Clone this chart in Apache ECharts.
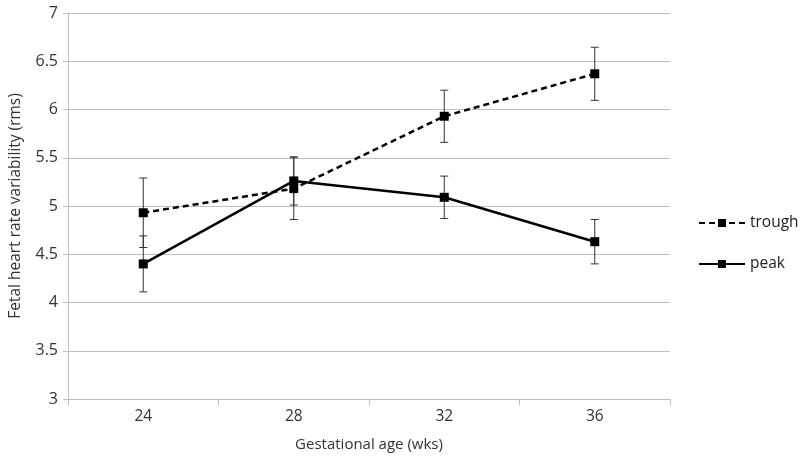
<!DOCTYPE html>
<html>
<head>
<meta charset="utf-8">
<script src="https://cdn.jsdelivr.net/npm/echarts@6/dist/echarts.min.js"></script>
<style>html,body{margin:0;padding:0;background:#fff}#c{width:800px;height:464px}</style>
</head>
<body>
<div id="c"></div>
<script>
const categories = ['24', '28', '32', '36'];
const troughValues = [4.93, 5.18, 5.93, 6.37];
const troughErr = [0.36, 0.32, 0.27, 0.275];
const peakValues = [4.40, 5.26, 5.09, 4.63];
const peakErr = [0.29, 0.25, 0.22, 0.23];
const yTicks = [3, 3.5, 4, 4.5, 5, 5.5, 6, 6.5, 7];

const FONT = '"Open Sans", Lato, sans-serif';

function errData(vals, errs) {
  return vals.map((v, i) => [i, v - errs[i], v + errs[i]]);
}
function errRender(params, api) {
  const x = api.value(0);
  const lo = api.coord([x, api.value(1)]);
  const hi = api.coord([x, api.value(2)]);
  const w = 4;
  const style = { stroke: '#333', lineWidth: 1 };
  return {
    type: 'group',
    children: [
      { type: 'line', shape: { x1: hi[0], y1: hi[1], x2: lo[0], y2: lo[1] }, style },
      { type: 'line', shape: { x1: hi[0] - w, y1: hi[1], x2: hi[0] + w, y2: hi[1] }, style },
      { type: 'line', shape: { x1: lo[0] - w, y1: lo[1], x2: lo[0] + w, y2: lo[1] }, style }
    ]
  };
}

const chart = echarts.init(document.getElementById('c'), null, { renderer: 'canvas' });
chart.setOption({
  animation: false,
  backgroundColor: '#fff',
  textStyle: { fontFamily: FONT },
  grid: { left: 67, right: 130, top: 13, bottom: 65, containLabel: false },
  legend: {
    data: ['trough', 'peak'],
    orient: 'vertical',
    left: 693,
    top: 210,
    itemWidth: 46,
    itemHeight: 10,
    itemGap: 25,
    textStyle: { fontFamily: FONT, fontSize: 15.5, color: '#222' }
  },
  xAxis: {
    type: 'category',
    data: categories,
    boundaryGap: true,
    axisLine: { show: true, lineStyle: { color: '#bfbfbf', width: 1 } },
    axisTick: { show: true, alignWithLabel: false, length: 6, lineStyle: { color: '#bfbfbf' } },
    axisLabel: { fontFamily: FONT, fontSize: 15.5, color: '#333', margin: 10 },
    name: 'Gestational age (wks)',
    nameLocation: 'middle',
    nameGap: 38,
    nameTextStyle: { fontFamily: FONT, fontSize: 15, color: '#333' }
  },
  yAxis: {
    type: 'value',
    min: 3,
    max: 7,
    interval: 0.5,
    axisLine: { show: true, lineStyle: { color: '#bfbfbf', width: 1 } },
    axisTick: { show: true, length: 5, lineStyle: { color: '#bfbfbf' } },
    splitLine: { show: true, lineStyle: { color: '#c0c0c0', width: 1 } },
    axisLabel: {
      fontFamily: FONT, fontSize: 16, color: '#333', margin: 10,
      formatter: v => (yTicks.includes(v) ? String(v) : '')
    },
    name: 'Fetal heart rate variability (rms)',
    nameLocation: 'middle',
    nameGap: 44,
    nameRotate: 90,
    nameTextStyle: { fontFamily: FONT, fontSize: 15.5, color: '#333' }
  },
  series: [
    {
      type: 'custom',
      renderItem: errRender,
      data: errData(troughValues, troughErr),
      encode: { x: 0, y: [1, 2] },
      z: 1,
      silent: true
    },
    {
      type: 'custom',
      renderItem: errRender,
      data: errData(peakValues, peakErr),
      encode: { x: 0, y: [1, 2] },
      z: 1,
      silent: true
    },
    {
      name: 'trough',
      type: 'line',
      data: troughValues,
      symbol: 'rect',
      symbolSize: 9,
      itemStyle: { color: '#000' },
      lineStyle: { color: '#000', width: 2.5, type: [6, 4] },
      z: 3
    },
    {
      name: 'peak',
      type: 'line',
      data: peakValues,
      symbol: 'rect',
      symbolSize: 9,
      itemStyle: { color: '#000' },
      lineStyle: { color: '#000', width: 2.5 },
      z: 3
    }
  ]
});
</script>
</body>
</html>
